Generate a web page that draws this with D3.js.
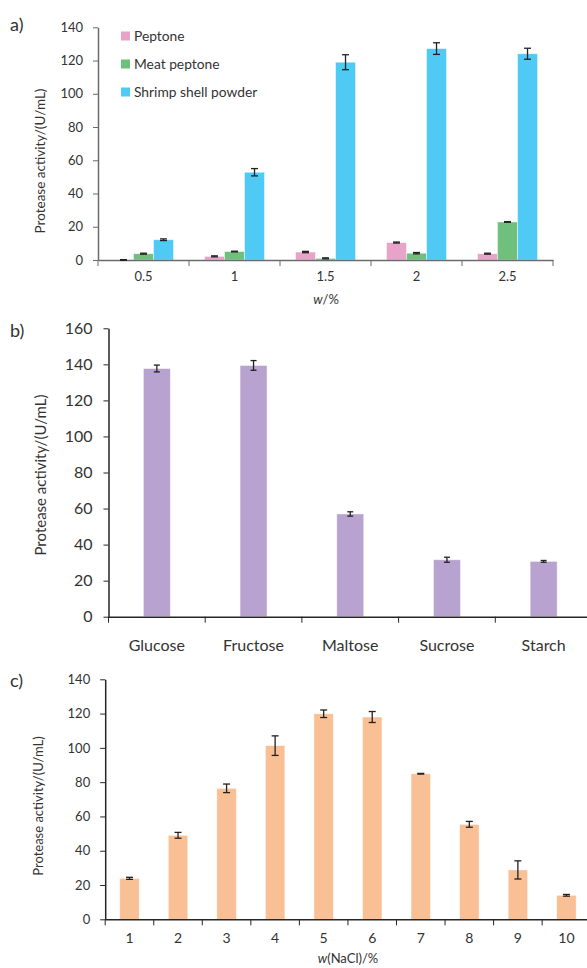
<!DOCTYPE html>
<html>
<head>
<meta charset="utf-8">
<script src="https://cdn.jsdelivr.net/npm/d3@7"></script>
<style>
  body { margin: 0; background: #fff; }
  svg text { font-family: Lato, "Open Sans", sans-serif; fill: #333; }
  .it { font-style: italic; }
</style>
</head>
<body>
<svg id="chart" width="587" height="968"></svg>
<script>
// panel a: nitrogen source
let concLabels = ['0.5', '1', '1.5', '2', '2.5'];
let nitrogenNames = ['Peptone', 'Meat peptone', 'Shrimp shell powder'];
let peptone = [0, 2.2, 4.8, 10.5, 3.8];
let peptoneErr = [0.2, 0.3, 0.4, 0.3, 0.3];
let meatPeptone = [3.8, 5.1, 1.0, 4.1, 22.9];
let meatPeptoneErr = [0.3, 0.2, 0.3, 0.4, 0.2];
let shrimpShell = [12.2, 52.8, 119.0, 127.2, 124.1];
let shrimpShellErr = [0.5, 2.2, 4.5, 3.5, 3.3];
let nitrogenColors = ['#e8a3c8', '#6fc07d', '#4fcaf4'];
let ticksA = [0, 20, 40, 60, 80, 100, 120, 140];

// panel b: carbon source
let carbonNames = ['Glucose', 'Fructose', 'Maltose', 'Sucrose', 'Starch'];
let carbonValues = [137.7, 139.4, 57.0, 31.6, 30.7];
let carbonErr = [1.9, 2.7, 1.2, 1.4, 0.5];
let ticksB = [0, 20, 40, 60, 80, 100, 120, 140, 160];

// panel c: NaCl
let naclLabels = ['1', '2', '3', '4', '5', '6', '7', '8', '9', '10'];
let naclValues = [23.9, 49.0, 76.4, 101.3, 119.9, 118.0, 84.9, 55.4, 28.8, 14.0];
let naclErr = [0.6, 1.7, 2.5, 5.7, 2.2, 3.2, 0.2, 1.7, 5.3, 0.5];
let ticksC = [0, 20, 40, 60, 80, 100, 120, 140];

let svg = d3.select('#chart');
let yTitle = 'Protease activity/(U/mL)';

function errorBar(g, cx, y, v, e, cap) {
    let eb = g.append('g').attr('stroke', '#222').attr('stroke-width', 1.3);
    eb.append('line').attr('x1', cx).attr('x2', cx).attr('y1', y(v + e)).attr('y2', y(v - e));
    eb.append('line').attr('x1', cx - cap / 2).attr('x2', cx + cap / 2).attr('y1', y(v + e)).attr('y2', y(v + e));
    eb.append('line').attr('x1', cx - cap / 2).attr('x2', cx + cap / 2).attr('y1', y(v - e)).attr('y2', y(v - e));
}

function drawAxes(g, x, y, ticks, opt) {
    let yAxis = g.append('g')
        .attr('transform', 'translate(' + x.range()[0] + ',0)')
        .call(d3.axisLeft(y).tickValues(ticks).tickSize(5).tickPadding(opt.pad).tickSizeOuter(0));
    yAxis.selectAll('text').style('font-size', opt.font + 'px');
    let xAxis = g.append('g')
        .attr('transform', 'translate(0,' + y(0) + ')')
        .call(d3.axisBottom(x).tickSize(0).tickPadding(opt.xpad).tickSizeOuter(0));
    xAxis.selectAll('text').style('font-size', opt.xfont + 'px');
    // category boundary ticks
    let r = x.range();
    xAxis.selectAll('.bound')
        .data(d3.range(x.domain().length + 1))
        .join('line')
        .attr('x1', i => r[0] + i * x.step()).attr('x2', i => r[0] + i * x.step())
        .attr('y1', 0).attr('y2', 6);
    g.selectAll('.domain, .tick line').attr('stroke', opt.axisColor);
    xAxis.selectAll('line').attr('stroke', opt.axisColor);
    xAxis.select('.domain').attr('stroke-width', 1.5);
    yAxis.select('.domain').attr('stroke-width', 1.5);
}

// ---- panel a ----
(function () {
    let g = svg.append('g');
    let x0 = d3.scaleBand().domain(concLabels).range([98, 553]).paddingInner(0.34).paddingOuter(0.17);
    let x = d3.scaleBand().domain(concLabels).range([98, 553]);
    let x1 = d3.scaleBand().domain(nitrogenNames).range([0, x0.bandwidth()]);
    let y = d3.scaleLinear().domain([0, 140]).range([260, 27.3]);
    let series = [
        {name: nitrogenNames[0], vals: peptone, errs: peptoneErr, color: nitrogenColors[0]},
        {name: nitrogenNames[1], vals: meatPeptone, errs: meatPeptoneErr, color: nitrogenColors[1]},
        {name: nitrogenNames[2], vals: shrimpShell, errs: shrimpShellErr, color: nitrogenColors[2]}
    ];
    series.forEach(s => {
        g.append('g').selectAll('rect').data(concLabels).join('rect')
            .attr('x', (c) => x0(c) + x1(s.name))
            .attr('width', x1.bandwidth())
            .attr('y', (c, i) => y(s.vals[i]))
            .attr('height', (c, i) => y(0) - y(s.vals[i]))
            .attr('fill', s.color)
            .attr('stroke', 'rgba(255,255,255,0.6)').attr('stroke-width', 0.8);
    });
    drawAxes(g, x, y, ticksA, {pad: 10, font: 13, xpad: 12, xfont: 13, axisColor: '#6b6b6b'});
    series.forEach(s => {
        concLabels.forEach((c, i) => errorBar(g, x0(c) + x1(s.name) + x1.bandwidth() / 2, y, s.vals[i], s.errs[i], 7));
    });
    // legend
    let lg = g.append('g').attr('transform', 'translate(121,36)');
    series.forEach((s, i) => {
        let row = lg.append('g').attr('transform', 'translate(0,' + i * 28 + ')');
        row.append('rect').attr('x', 0).attr('y', -4.5).attr('width', 9).attr('height', 9).attr('fill', s.color);
        row.append('text').attr('x', 13).attr('y', 5).style('font-size', '13.8px').text(s.name);
    });
    let t = g.append('text').attr('x', 326).attr('y', 304).attr('text-anchor', 'middle').style('font-size', '13px');
    t.append('tspan').attr('class', 'it').text('w');
    t.append('tspan').text('/%');
    g.append('text').attr('transform', 'translate(45,161) rotate(-90)').attr('text-anchor', 'middle')
        .style('font-size', '13.5px').text(yTitle);
    g.append('text').attr('x', 10).attr('y', 31).style('font-size', '18px').text('a)');
})();

// ---- panel b ----
(function () {
    let g = svg.append('g');
    let x = d3.scaleBand().domain(carbonNames).range([108.5, 592]);
    let y = d3.scaleLinear().domain([0, 160]).range([616.7, 328.3]);
    let bw = 27;
    g.append('g').selectAll('rect').data(carbonNames).join('rect')
        .attr('x', c => x(c) + x.bandwidth() / 2 - bw / 2)
        .attr('width', bw)
        .attr('y', (c, i) => y(carbonValues[i]))
        .attr('height', (c, i) => y(0) - y(carbonValues[i]))
        .attr('fill', '#b8a2cf')
        .attr('stroke', 'rgba(255,255,255,0.6)').attr('stroke-width', 0.8);
    drawAxes(g, x, y, ticksB, {pad: 11, font: 16, xpad: 23, xfont: 16, axisColor: '#262626'});
    carbonNames.forEach((c, i) => errorBar(g, x(c) + x.bandwidth() / 2, y, carbonValues[i], carbonErr[i], 6));
    g.append('text').attr('transform', 'translate(46,475) rotate(-90)').attr('text-anchor', 'middle')
        .style('font-size', '15px').text(yTitle);
    g.append('text').attr('x', 10).attr('y', 337).style('font-size', '18px').text('b)');
})();

// ---- panel c ----
(function () {
    let g = svg.append('g');
    let x = d3.scaleBand().domain(naclLabels).range([105.2, 590.7]);
    let y = d3.scaleLinear().domain([0, 140]).range([919.3, 679.3]);
    let bw = 19.5;
    g.append('g').selectAll('rect').data(naclLabels).join('rect')
        .attr('x', c => x(c) + x.bandwidth() / 2 - bw / 2)
        .attr('width', bw)
        .attr('y', (c, i) => y(naclValues[i]))
        .attr('height', (c, i) => y(0) - y(naclValues[i]))
        .attr('fill', '#f9bf95')
        .attr('stroke', 'rgba(255,255,255,0.6)').attr('stroke-width', 0.8);
    drawAxes(g, x, y, ticksC, {pad: 10, font: 13, xpad: 14, xfont: 14, axisColor: '#262626'});
    naclLabels.forEach((c, i) => errorBar(g, x(c) + x.bandwidth() / 2, y, naclValues[i], naclErr[i], 7));
    let t = g.append('text').attr('x', 348).attr('y', 963).attr('text-anchor', 'middle').style('font-size', '13px');
    t.append('tspan').attr('class', 'it').text('w');
    t.append('tspan').text('(NaCl)/%');
    g.append('text').attr('transform', 'translate(43,806) rotate(-90)').attr('text-anchor', 'middle')
        .style('font-size', '13px').text(yTitle);
    g.append('text').attr('x', 10).attr('y', 687).style('font-size', '18px').text('c)');
})();
</script>
</body>
</html>
